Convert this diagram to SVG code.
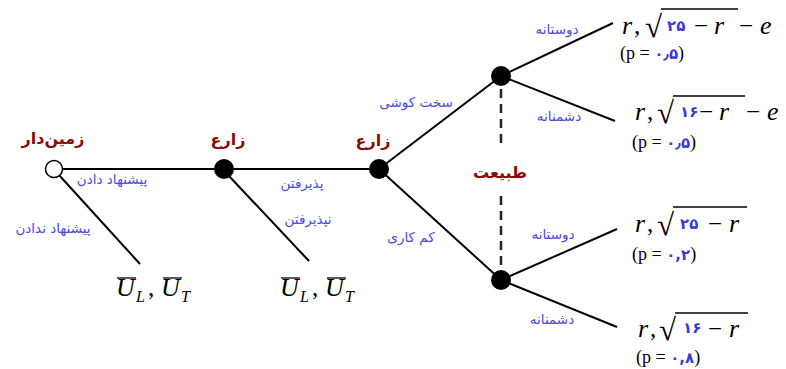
<svg xmlns="http://www.w3.org/2000/svg" width="786" height="369" viewBox="0 0 786 369">
<style>
.e{stroke:#000;stroke-width:2;fill:none}
.d{stroke:#222;stroke-width:2.5;stroke-dasharray:9 6;fill:none}
.t{font-family:"DejaVu Sans",sans-serif;font-weight:bold;font-size:16px;fill:#8B0A0A;text-anchor:middle}
.l{font-family:"DejaVu Sans",sans-serif;font-size:13.5px;fill:#4a4ae0;text-anchor:middle}
.m{font-family:"Liberation Serif",serif;font-style:italic;font-size:26px;fill:#000}
.n{font-family:"Liberation Serif",serif;font-size:25px;fill:#000}
.r{font-family:"Liberation Serif",serif;font-size:31px;fill:#000}
.p{font-family:"Liberation Serif",serif;font-size:18px;fill:#000}
.f{font-family:"DejaVu Sans",sans-serif;font-weight:bold;font-size:15px;fill:#3a3ad8}
.s{font-family:"Liberation Serif",serif;font-style:italic;font-size:16px;fill:#000}
.o{stroke:#000;stroke-width:1.3}
</style>
<rect width="786" height="369" fill="#fff"/>
<g id="connectors">
<line class="e" x1="54" y1="169" x2="379" y2="169"/>
<line class="e" x1="59" y1="175" x2="140" y2="264"/>
<line class="e" x1="229" y1="176" x2="309" y2="261"/>
<line class="e" x1="379" y1="169" x2="501" y2="76"/>
<line class="e" x1="379" y1="169" x2="501" y2="280"/>
<line class="e" x1="501" y1="76" x2="613" y2="23"/>
<line class="e" x1="501" y1="76" x2="615" y2="121"/>
<line class="e" x1="501" y1="280" x2="617" y2="229"/>
<line class="e" x1="501" y1="280" x2="617" y2="327"/>
<line class="d" x1="501" y1="89" x2="501" y2="144"/>
<line class="d" x1="501" y1="196" x2="501" y2="274"/>
</g>
<g id="landowner">
<circle cx="54" cy="169" r="8.5" fill="#fff" stroke="#000" stroke-width="1.5"/>
<text class="t" x="53" y="144">زمین‌دار</text>
</g>
<g id="farmer1">
<circle cx="224" cy="169" r="10" fill="#000"/>
<text class="t" x="228" y="145">زارع</text>
</g>
<g id="farmer2">
<circle cx="379" cy="169" r="10" fill="#000"/>
<text class="t" x="373" y="146">زارع</text>
</g>
<g id="nature-top">
<circle cx="501" cy="76" r="10" fill="#000"/>
</g>
<g id="nature-bottom">
<circle cx="501" cy="280" r="10" fill="#000"/>
</g>
<g id="nature-label">
<text class="t" x="500" y="178">طبیعت</text>
</g>
<g id="edge-labels">
<text class="l" x="112" y="184">پیشنهاد دادن</text>
<text class="l" x="53" y="233">پیشنهاد ندادن</text>
<text class="l" x="302" y="188">پذیرفتن</text>
<text class="l" x="308" y="224">نپذیرفتن</text>
<text class="l" x="411" y="242">کم کاری</text>
<text class="l" x="416" y="107">سخت کوشی</text>
<text class="l" x="557" y="34">دوستانه</text>
<text class="l" x="559" y="121">دشمنانه</text>
<text class="l" x="553" y="239">دوستانه</text>
<text class="l" x="552" y="324">دشمنانه</text>
</g>
<g id="payoff-no-offer">
<line class="o" x1="117" y1="278" x2="136" y2="278"/>
<line class="o" x1="163" y1="278" x2="182" y2="278"/>
<text class="m" x="116" y="296">U</text>
<text class="s" x="136" y="302">L</text>
<text class="n" x="148" y="296">,</text>
<text class="m" x="161" y="296">U</text>
<text class="s" x="181" y="302">T</text>
</g>
<g id="payoff-reject">
<line class="o" x1="281" y1="278" x2="300" y2="278"/>
<line class="o" x1="327" y1="278" x2="346" y2="278"/>
<text class="m" x="280" y="296">U</text>
<text class="s" x="300" y="302">L</text>
<text class="n" x="312" y="296">,</text>
<text class="m" x="325" y="296">U</text>
<text class="s" x="345" y="302">T</text>
</g>
<g id="payoff-1">
<text class="m" x="622" y="34">r</text>
<text class="n" x="634" y="34">,</text>
<text class="r" x="645" y="37">√</text>
<line class="o" x1="661" y1="9" x2="738" y2="9"/>
<text class="f" x="667" y="31">۲۵</text>
<text class="n" x="694" y="34">−</text>
<text class="m" x="714" y="34">r</text>
<text class="n" x="739" y="34">−</text>
<text class="m" x="760" y="34">e</text>
<text class="p" x="620" y="59">(p = <tspan class="f">۰٫۵</tspan>)</text>
</g>
<g id="payoff-2">
<text class="m" x="635" y="120">r</text>
<text class="n" x="647" y="120">,</text>
<text class="r" x="657" y="123">√</text>
<line class="o" x1="673" y1="96" x2="745" y2="96"/>
<text class="f" x="680" y="117">۱۶</text>
<text class="n" x="699" y="120">−</text>
<text class="m" x="719" y="120">r</text>
<text class="n" x="746" y="120">−</text>
<text class="m" x="767" y="120">e</text>
<text class="p" x="632" y="148">(p = <tspan class="f">۰٫۵</tspan>)</text>
</g>
<g id="payoff-3">
<text class="m" x="635" y="232">r</text>
<text class="n" x="647" y="232">,</text>
<text class="r" x="657" y="235">√</text>
<line class="o" x1="673" y1="207" x2="747" y2="207"/>
<text class="f" x="680" y="229">۲۵</text>
<text class="n" x="708" y="232">−</text>
<text class="m" x="729" y="232">r</text>
<text class="p" x="632" y="260">(p = <tspan class="f">۰,۲</tspan>)</text>
</g>
<g id="payoff-4">
<text class="m" x="638" y="337">r</text>
<text class="n" x="650" y="337">,</text>
<text class="r" x="659" y="340">√</text>
<line class="o" x1="675" y1="313" x2="748" y2="313"/>
<text class="f" x="683" y="333">۱۶</text>
<text class="n" x="708" y="337">−</text>
<text class="m" x="729" y="337">r</text>
<text class="p" x="636" y="363">(p = <tspan class="f">۰,۸</tspan>)</text>
</g>
</svg>
